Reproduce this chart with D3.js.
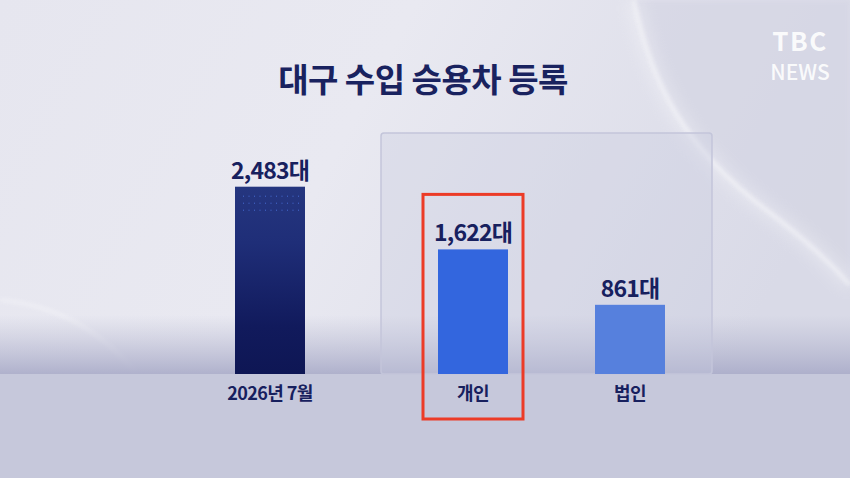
<!DOCTYPE html>
<html><head><meta charset="utf-8">
<script src="https://cdn.jsdelivr.net/npm/d3@7"></script>
<style>
html,body{margin:0;padding:0;background:#e4e5ee;overflow:hidden}
svg{display:block}
text{font-family:"Noto Sans CJK KR","Noto Sans",sans-serif}
</style></head><body>
<svg id="c" width="850" height="478"></svg>
<script>
const title = "대구 수입 승용차 등록";
const categories = ["2026년 7월", "개인", "법인"];
const values = [2483, 1622, 861];
const valueLabels = ["2,483대", "1,622대", "861대"];
const highlighted = ["개인"];

const W = 850, H = 478, baseY = 374;
const svg = d3.select("#c");
const defs = svg.append("defs");

const blur = defs.append("filter").attr("id","blur").attr("x","-20%").attr("y","-20%").attr("width","140%").attr("height","140%");
blur.append("feGaussianBlur").attr("stdDeviation",2.2);
const blur2 = defs.append("filter").attr("id","blur2").attr("x","-20%").attr("y","-20%").attr("width","140%").attr("height","140%");
blur2.append("feGaussianBlur").attr("stdDeviation",8);

// background gradient
const bg = defs.append("linearGradient").attr("id","bg").attr("x1",0).attr("y1",0).attr("x2",1).attr("y2",0.3);
bg.append("stop").attr("offset","0").attr("stop-color","#e6e6ef");
bg.append("stop").attr("offset","0.45").attr("stop-color","#e9e9f1");
bg.append("stop").attr("offset","1").attr("stop-color","#d9dae7");
svg.append("rect").attr("width",W).attr("height",H).attr("fill","url(#bg)");

// right side darker region beyond arc
svg.append("path")
  .attr("d","M634,0 C652,90 690,150 760,205 C800,235 830,262 850,285 L850,0 Z")
  .attr("fill","#d5d6e4").attr("opacity",0.75).attr("filter","url(#blur)");
// arc glow
svg.append("path")
  .attr("d","M634,0 C652,90 690,150 760,205 C800,235 830,262 850,285")
  .attr("fill","none").attr("stroke","#ffffff").attr("stroke-width",12).attr("opacity",0.35).attr("filter","url(#blur2)");
svg.append("path")
  .attr("d","M634,0 C652,90 690,150 760,205 C800,235 830,262 850,285")
  .attr("fill","none").attr("stroke","#ffffff").attr("stroke-width",3).attr("opacity",0.6).attr("filter","url(#blur)");
svg.append("path")
  .attr("d","M0,300 C55,305 100,330 135,372")
  .attr("fill","none").attr("stroke","#ffffff").attr("stroke-width",2.5).attr("opacity",0.45).attr("filter","url(#blur)");

// floor fade above baseline
const fade = defs.append("linearGradient").attr("id","fade").attr("x1",0).attr("y1",0).attr("x2",0).attr("y2",1);
fade.append("stop").attr("offset","0").attr("stop-color","#b4b6cf").attr("stop-opacity",0);
fade.append("stop").attr("offset","1").attr("stop-color","#a9abc8").attr("stop-opacity",0.9);
svg.append("rect").attr("x",0).attr("y",315).attr("width",W).attr("height",baseY-315).attr("fill","url(#fade)");

// floor band
svg.append("rect").attr("x",0).attr("y",baseY).attr("width",W).attr("height",H-baseY).attr("fill","#c6c8db");

// panel behind the breakdown bars
svg.append("rect").attr("x",381).attr("y",133).attr("width",331).attr("height",baseY-133)
  .attr("rx",3).attr("fill","#c9cbe0").attr("fill-opacity",0.35)
  .attr("stroke","#c3c5da").attr("stroke-width",1.5);

// scales
const x = d3.scaleOrdinal().domain(categories).range([270, 473, 630]);
const barW = 70;
const y = d3.scaleLinear().domain([0, d3.max(values)]).range([367.5, 186.7]);

// bar gradients
const g1 = defs.append("linearGradient").attr("id","g1").attr("x1",0).attr("y1",0).attr("x2",0).attr("y2",1);
g1.append("stop").attr("offset","0").attr("stop-color","#25367f");
g1.append("stop").attr("offset","0.3").attr("stop-color","#1f2e78");
g1.append("stop").attr("offset","0.75").attr("stop-color","#111a5c");
g1.append("stop").attr("offset","1").attr("stop-color","#0e1654");
const fills = ["url(#g1)", "#3366de", "#5680dd"];

const data = categories.map((c,i)=>({c, v:values[i], lab:valueLabels[i], fill:fills[i]}));

svg.selectAll("rect.bar").data(data).join("rect").attr("class","bar")
  .attr("x",d=>x(d.c)-barW/2).attr("y",d=>y(d.v))
  .attr("width",barW).attr("height",d=>baseY-y(d.v))
  .attr("fill",d=>d.fill);

// faint dot rows in first bar
const first = data[0];
for (let r=0;r<3;r++){
  for (let k=0;k<11;k++){
    svg.append("rect").attr("x",x(first.c)-barW/2+8+k*5.5).attr("y",y(first.v)+9+r*7)
      .attr("width",1).attr("height",1).attr("fill","#4f7ae8").attr("opacity",0.8);
  }
}

// value labels
svg.selectAll("text.val").data(data).join("text").attr("class","val")
  .attr("x",d=>x(d.c)).attr("y",d=>y(d.v)-8)
  .attr("text-anchor","middle").attr("font-size",23).attr("font-weight",700)
  .attr("fill","#17205e").attr("letter-spacing",-0.8).text(d=>d.lab);

// category labels
svg.selectAll("text.cat").data(data).join("text").attr("class","cat")
  .attr("x",d=>x(d.c)).attr("y",400)
  .attr("text-anchor","middle").attr("font-size",18).attr("font-weight",700)
  .attr("fill","#17205e").attr("letter-spacing",-0.6).text(d=>d.c);

// highlight box
svg.selectAll("rect.hl").data(data.filter(d=>highlighted.includes(d.c))).join("rect").attr("class","hl")
  .attr("x",d=>x(d.c)-50).attr("y",d=>y(d.v)-55)
  .attr("width",100).attr("height",d=>419-(y(d.v)-55))
  .attr("fill","none").attr("stroke","#ec3b27").attr("stroke-width",3);

// title
svg.append("text").attr("x",423).attr("y",92).attr("text-anchor","middle")
  .attr("font-size",33).attr("font-weight",700).attr("fill","#19225f")
  .attr("letter-spacing",-0.5).text(title);

// logo
svg.append("text").attr("x",800).attr("y",51).attr("text-anchor","middle")
  .attr("font-family","Inter, sans-serif").attr("font-size",26).attr("font-weight",600)
  .attr("fill","#ffffff").attr("fill-opacity",0.9).attr("letter-spacing",1.5).text("TBC");
svg.append("text").attr("x",800).attr("y",80).attr("text-anchor","middle")
  .attr("font-family","Roboto, sans-serif").attr("font-size",21).attr("font-weight",500)
  .attr("fill","#ffffff").attr("fill-opacity",0.9).text("NEWS");
</script>
</body></html>
